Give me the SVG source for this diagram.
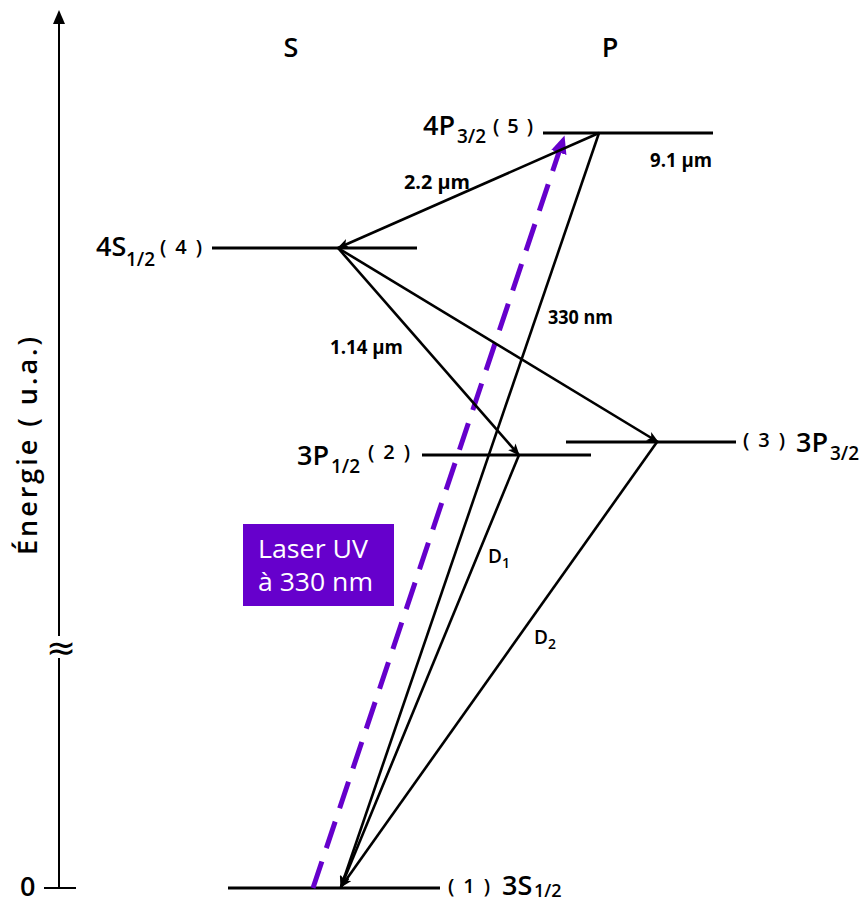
<svg xmlns="http://www.w3.org/2000/svg" width="861" height="903" viewBox="0 0 861 903">
<style>
text{font-family:"Open Sans","DejaVu Sans",sans-serif;font-weight:600;fill:#000}
.lvl{stroke:#000;stroke-width:3;fill:none}
.tr{stroke:#000;stroke-width:2.6;fill:none;marker-end:url(#ah)}
.lab{font-size:19px;font-weight:700}
.big{font-size:27px}
.sub{font-size:19px}
.par{font-size:20px}
.wt{font-size:25px;font-weight:500;fill:#fff}
</style>
<defs>
<marker id="ah" viewBox="0 0 12 10" refX="11" refY="5" markerWidth="12" markerHeight="10" markerUnits="userSpaceOnUse" orient="auto">
<path d="M0,0 L12,5 L0,10 L3,5 Z" fill="#000"/>
</marker>
<marker id="uvh" viewBox="0 0 20 20" refX="10" refY="10" markerWidth="20" markerHeight="20" markerUnits="userSpaceOnUse" orient="auto">
<path d="M0,2 L18,10 L0,18 Z" fill="#6600cc"/>
</marker>
</defs>

<g id="axis">
<line x1="59" y1="888" x2="59" y2="14" stroke="#000" stroke-width="2"/>
<path d="M59,10 L65,24 L53,24 Z" fill="#000"/>
<line x1="44" y1="888" x2="76" y2="888" stroke="#000" stroke-width="2"/>
<rect x="49" y="636" width="22" height="22" fill="#fff"/>
<text x="61" y="660" font-size="36" text-anchor="middle" style="font-family:'DejaVu Sans',sans-serif;font-weight:400">≈</text>
<text x="20" y="896" class="big">0</text>
<text transform="translate(37,446) rotate(-90)" font-size="27" text-anchor="middle" textLength="218" lengthAdjust="spacing">Énergie ( u.a.)</text>
</g>

<g id="headers">
<text x="291" y="57" class="big" text-anchor="middle">S</text>
<text x="610" y="57" class="big" text-anchor="middle">P</text>
</g>

<g id="level5">
<line class="lvl" x1="543" y1="133" x2="713" y2="133"/>
<text x="423" y="135" class="big">4P</text>
<text x="457" y="143" class="sub">3/2</text>
<text x="493" y="133" class="par" textLength="40" lengthAdjust="spacing">( 5 )</text>
</g>
<g id="level4">
<line class="lvl" x1="212" y1="248" x2="417" y2="248"/>
<text x="96" y="256" class="big">4S</text>
<text x="126" y="266" class="sub">1/2</text>
<text x="160" y="254" class="par" textLength="42" lengthAdjust="spacing">( 4 )</text>
</g>
<g id="level2">
<line class="lvl" x1="422" y1="455" x2="591" y2="455"/>
<text x="297" y="465" class="big">3P</text>
<text x="331" y="473" class="sub">1/2</text>
<text x="368" y="459" class="par" textLength="42" lengthAdjust="spacing">( 2 )</text>
</g>
<g id="level3">
<line class="lvl" x1="566" y1="442" x2="736" y2="442"/>
<text x="743" y="447" class="par" textLength="42" lengthAdjust="spacing">( 3 )</text>
<text x="796" y="452" class="big">3P</text>
<text x="830" y="460" class="sub">3/2</text>
</g>
<g id="level1">
<line class="lvl" x1="228" y1="888" x2="440" y2="888"/>
<text x="448" y="893" class="par" textLength="42" lengthAdjust="spacing">( 1 )</text>
<text x="502" y="895" class="big">3S</text>
<text x="534" y="897" font-size="18">1/2</text>
</g>

<g id="laser">
<rect x="243" y="524" width="151" height="82" fill="#6600cc"/>
<text x="258" y="558" class="wt" textLength="110" lengthAdjust="spacingAndGlyphs">Laser UV</text>
<text x="258" y="591" class="wt" textLength="115" lengthAdjust="spacingAndGlyphs">à 330 nm</text>
</g>

<g id="connectors">
<line x1="313" y1="888" x2="562" y2="143" stroke="#6600cc" stroke-width="5" stroke-dasharray="28,14" marker-end="url(#uvh)"/>
<line class="tr" x1="599" y1="133" x2="338" y2="248"/>
<line class="tr" x1="338" y1="248" x2="519" y2="455"/>
<line class="tr" x1="338" y1="248" x2="658" y2="442"/>
<line class="tr" x1="599" y1="133" x2="341" y2="887"/>
<line class="tr" x1="519" y1="455" x2="341" y2="887"/>
<line class="tr" x1="657" y1="442" x2="341" y2="887"/>
</g>

<g id="labels">
<text x="404" y="189" class="lab" textLength="66" lengthAdjust="spacingAndGlyphs">2.2 µm</text>
<text x="650" y="167" class="lab" textLength="62" lengthAdjust="spacingAndGlyphs">9.1 µm</text>
<text x="330" y="354" class="lab" textLength="73" lengthAdjust="spacingAndGlyphs">1.14 µm</text>
<text x="548" y="324" class="lab" textLength="65" lengthAdjust="spacingAndGlyphs">330 nm</text>
<text x="488" y="563" class="lab" style="font-weight:600">D<tspan font-size="14" dy="5">1</tspan></text>
<text x="534" y="644" class="lab" style="font-weight:600">D<tspan font-size="14" dy="5">2</tspan></text>
</g>
</svg>
